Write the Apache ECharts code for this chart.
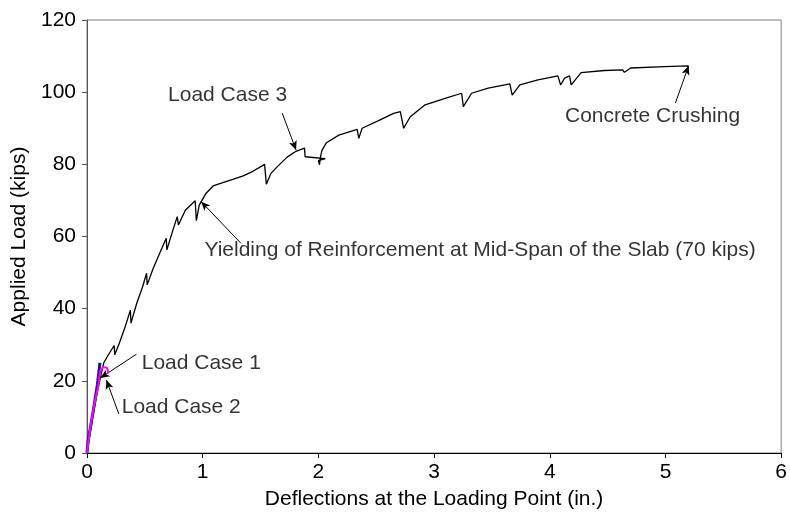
<!DOCTYPE html>
<html>
<head>
<meta charset="utf-8">
<script src="https://cdn.jsdelivr.net/npm/echarts@6/dist/echarts.min.js"></script>
<style>
  html, body { margin: 0; padding: 0; background: #fff; }
  #chart { width: 790px; height: 527px; }
</style>
</head>
<body>
<div id="chart"></div>
<script>
// load-deflection curve, load case 3 (black)
const loadCase3 = [
  [0, 0], [0.02, 4], [0.05, 10], [0.09, 17], [0.12, 21.5], [0.145, 25],
  [0.19, 27.5], [0.235, 29.8], [0.24, 27.2], [0.28, 30.5], [0.33, 35],
  [0.375, 39.6], [0.38, 36], [0.43, 41.5], [0.48, 46], [0.515, 49.8],
  [0.52, 46.6], [0.57, 51], [0.63, 55.5], [0.685, 59.5], [0.69, 56.3],
  [0.74, 61.5], [0.78, 65.5], [0.79, 63.2], [0.85, 67.3], [0.935, 69.9],
  [0.945, 64.4], [0.97, 68.7], [1.03, 72], [1.09, 74], [1.18, 75],
  [1.26, 75.8], [1.35, 76.8], [1.43, 78], [1.51, 79.5], [1.535, 80],
  [1.55, 74.5], [1.59, 77.5], [1.65, 79.5], [1.73, 82], [1.8, 83.5],
  [1.88, 84.5], [1.885, 82.1], [2.06, 81.6], [2.0, 81.0], [2.01, 79.9],
  [2.015, 81.5], [2.03, 83.8], [2.07, 86], [2.177, 88.1], [2.335, 89.7],
  [2.349, 87.2], [2.378, 90], [2.52, 92.1], [2.65, 94.1], [2.708, 94.6],
  [2.737, 90.0], [2.794, 93.2], [2.923, 96.5], [3.095, 98.3], [3.238, 99.7],
  [3.253, 96.0], [3.324, 99.7], [3.468, 101.1], [3.655, 102.3], [3.675, 99.2],
  [3.741, 102], [3.898, 103.4], [4.07, 104.5], [4.094, 102], [4.128, 103.9],
  [4.171, 104.5], [4.185, 102], [4.271, 105.4], [4.472, 106], [4.63, 106.2],
  [4.645, 105.5], [4.70, 106.7], [4.99, 107.1], [5.19, 107.3], [5.2, 107.0]
];
// load case 1 (navy)
const loadCase1 = [
  [0, 0], [0.01, 3.6], [0.035, 8], [0.069, 14.7], [0.09, 19], [0.112, 25]
];
// load case 2 (magenta)
const loadCase2 = [
  [0, 0], [0.02, 5], [0.054, 12], [0.08, 16], [0.097, 18.4], [0.11, 22],
  [0.118, 23], [0.14, 23.8], [0.155, 23.4], [0.17, 23.6], [0.18, 23], [0.183, 22]
];

const xTicks = [0, 1, 2, 3, 4, 5, 6];
const yTicks = [0, 20, 40, 60, 80, 100, 120];

// annotation arrows: [tail, tip]
const arrows = [
  [[1.687, 94.2], [1.807, 84.0]],
  [[5.086, 97.0], [5.2, 107.3]],
  [[1.331, 58.1], [0.987, 69.65]],
  [[0.428, 27.4], [0.116, 20.8]],
  [[0.275, 10.8], [0.168, 20.2]]
];
// annotation texts: anchor point and which side the text sits
const noteText = [
  "Load Case 3",
  "Concrete Crushing",
  "Yielding of Reinforcement at Mid-Span of the Slab (70 kips)",
  "Load Case 1",
  "Load Case 2"
];
const noteAt = [[1.73, 99.2], [5.645, 93.4], [1.015, 56.3], [0.473, 24.9], [0.30, 12.7]];
const noteSide = ["left", "left", "right", "right", "right"];

const font = "'Liberation Sans', Arial, sans-serif";

const chart = echarts.init(document.getElementById("chart"));

const option = {
  animation: false,
  backgroundColor: "#fff",
  grid: {
    left: 87, right: 6, top: 20, bottom: 74,
    show: true, borderColor: "#808080", borderWidth: 1
  },
  xAxis: {
    type: "value",
    min: xTicks[0], max: xTicks[xTicks.length - 1], interval: 1,
    name: "Deflections at the Loading Point (in.)",
    nameLocation: "middle", nameGap: 36,
    nameTextStyle: { fontFamily: font, fontSize: 21, color: "#000" },
    axisLine: { show: true, lineStyle: { color: "#000", width: 1 } },
    axisTick: { show: true, length: 5, lineStyle: { color: "#000" } },
    axisLabel: { fontFamily: font, fontSize: 21, color: "#000", margin: 9 },
    splitLine: { show: false }
  },
  yAxis: {
    type: "value",
    min: yTicks[0], max: yTicks[yTicks.length - 1], interval: 20,
    name: "Applied Load (kips)",
    nameLocation: "middle", nameGap: 52, nameRotate: 90,
    nameTextStyle: { fontFamily: font, fontSize: 21, color: "#000" },
    axisLine: { show: true, lineStyle: { color: "#555", width: 1 } },
    axisTick: { show: true, length: 5, lineStyle: { color: "#555" } },
    axisLabel: { fontFamily: font, fontSize: 21, color: "#000", margin: 11 },
    splitLine: { show: false }
  },
  series: [
    {
      type: "line", data: loadCase3, showSymbol: false,
      lineStyle: { color: "#000", width: 1.3 }, z: 3,
      markLine: {
        silent: true, symbol: ["none", "arrow"], symbolSize: [6, 9],
        lineStyle: { color: "#000", width: 1, type: "solid" },
        label: { show: false },
        data: arrows.map((a) => [{ coord: a[0] }, { coord: a[1] }])
      }
    },
    {
      type: "line", data: loadCase1, showSymbol: false,
      lineStyle: { color: "#1a1a8c", width: 3 }, z: 4
    },
    {
      type: "line", data: loadCase2, showSymbol: false,
      lineStyle: { color: "#ff00ff", width: 2 }, z: 5
    },
    {
      type: "scatter", symbolSize: 0, silent: true, z: 6,
      data: noteAt.map((p, i) => ({
        value: p,
        label: {
          show: true, position: noteSide[i], distance: 0,
          formatter: noteText[i],
          fontFamily: font, fontSize: 21, color: "#000"
        }
      }))
    }
  ]
};

chart.setOption(option);
</script>
</body>
</html>
